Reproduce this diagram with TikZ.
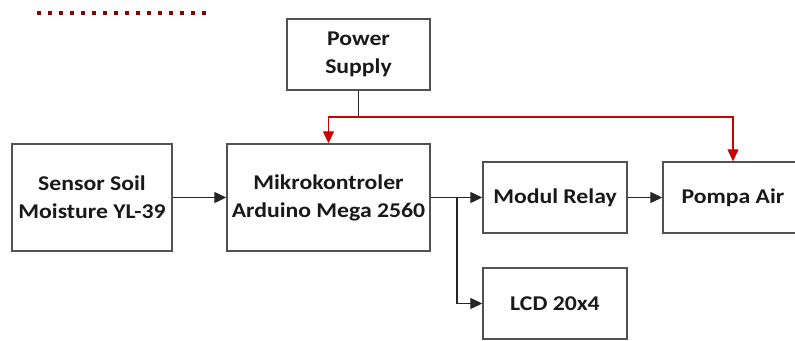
\documentclass[tikz,border=0pt]{standalone}
\usepackage{fontspec}
\setmainfont{Carlito}[FakeStretch=1.13]
\usetikzlibrary{arrows.meta}
\begin{document}
\begin{tikzpicture}[x=1pt,y=-1pt,
  blk/.style={draw=black!68, line width=1.4pt, rectangle, align=center,
    font=\fontsize{21}{28}\selectfont\bfseries, text=black!90, inner sep=0pt},
  conn/.style={draw=black!85, line width=1.2pt},
  arr/.style={conn, -{Triangle[length=12pt,width=11pt]}},
  rarr/.style={draw=red!80!black, line width=1.2pt, -{Triangle[length=12pt,width=11pt]}}
]
\useasboundingbox (0,0) rectangle (795,340);
\clip (0,0) rectangle (795,340);
% top-left artefact
\draw[red!55!black, line width=3.5pt, dash pattern=on 3.5pt off 7.5pt] (37,13) coordinate (d1) -- (212,13) coordinate (d2);
\node[blk, minimum width=143pt, minimum height=71pt] (ps) at (358.5,54.5) {Power\\Supply};
\node[blk, minimum width=160pt, minimum height=107pt] (ss) at (92,197.5) {Sensor Soil\\Moisture YL-39};
\node[blk, minimum width=203pt, minimum height=107pt] (mk) at (328.5,197.5) {Mikrokontroler\\Arduino Mega 2560};
\node[blk, minimum width=144pt, minimum height=71pt] (rl) at (555,197.5) {Modul Relay};
\node[blk, minimum width=140pt, minimum height=71pt] (pa) at (733,197.5) {Pompa Air};
\node[blk, minimum width=144pt, minimum height=71pt] (lcd) at (555,303.5) {LCD 20x4};
\coordinate (j) at (358.5,117);
\coordinate (b) at (457,197.5);
\draw[conn] (ps.south) -- (j);
\draw[rarr] (j) -| (mk.north);
\draw[rarr] (j) -| (pa.north);
\draw[arr] (ss.east) -- (mk.west);
\draw[conn] (mk.east) -- (b);
\draw[arr] (b) -- (rl.west);
\draw[arr] (b) |- (lcd.west);
\draw[arr] (rl.east) -- (pa.west);
\end{tikzpicture}
\end{document}
